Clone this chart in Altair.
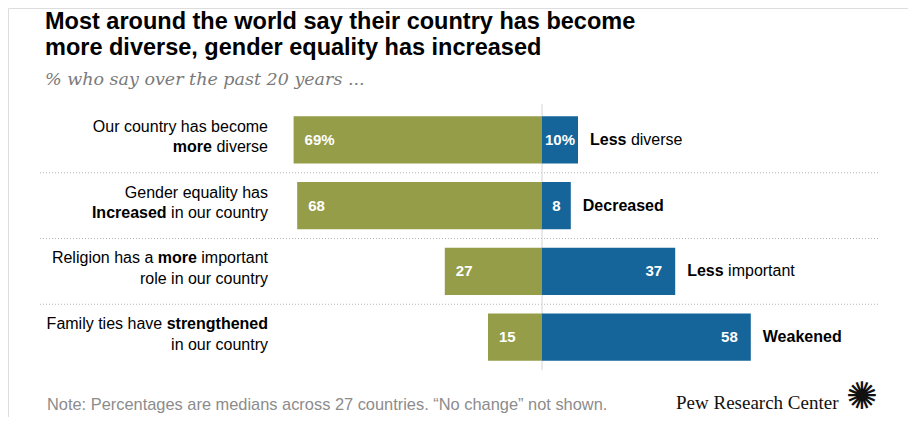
import altair as alt
import pandas as pd

# ---------------- data ----------------
rows = ["diverse", "gender", "religion", "family"]
left_values = [69, 68, 27, 15]
right_values = [10, 8, 37, 58]
left_value_text = ["69%", "68", "27", "15"]
right_value_text = ["10%", "8", "37", "58"]

# right-side category labels: (bold part, regular part)
right_bold = ["Less", "Decreased", "Less", "Weakened"]
right_regular = [" diverse", "", " important", ""]

# left-side labels: per row, two lines, each a list of (text, bold)
left_labels = [
    [[("Our country has become", False)], [("more", True), (" diverse", False)]],
    [[("Gender equality has", False)], [("Increased", True), (" in our country", False)]],
    [[("Religion has a ", False), ("more", True), (" important", False)], [("role in our country", False)]],
    [[("Family ties have ", False), ("strengthened", True)], [("in our country", False)]],
]

title_lines = ["Most around the world say their country has become",
               "more diverse, gender equality has increased"]
subtitle = "% who say over the past 20 years ..."
note = "Note: Percentages are medians across 27 countries. \u201cNo change\u201d not shown."
logo_text = "Pew Research Center"

GREEN = "#959d48"
BLUE = "#15659a"
FONT = "Liberation Sans"

# Arial / Liberation Sans advance widths (per 1000 em) for measuring text
REG = {' ': 278, 'a': 556, 'b': 556, 'c': 500, 'd': 556, 'e': 556, 'f': 278, 'g': 556, 'h': 556,
       'i': 222, 'j': 222, 'k': 500, 'l': 222, 'm': 833, 'n': 556, 'o': 556, 'p': 556, 'q': 556,
       'r': 333, 's': 500, 't': 278, 'u': 556, 'v': 500, 'w': 722, 'x': 500, 'y': 500, 'z': 500,
       'A': 667, 'B': 667, 'C': 722, 'D': 722, 'E': 667, 'F': 611, 'G': 778, 'H': 722, 'I': 278,
       'L': 556, 'O': 778, 'R': 722, 'W': 944}
BOLD = {' ': 278, 'a': 556, 'b': 611, 'c': 556, 'd': 611, 'e': 556, 'f': 333, 'g': 611, 'h': 611,
        'i': 278, 'j': 278, 'k': 556, 'l': 278, 'm': 889, 'n': 611, 'o': 611, 'p': 611, 'q': 611,
        'r': 389, 's': 556, 't': 333, 'u': 611, 'v': 556, 'w': 778, 'x': 556, 'y': 556, 'z': 500,
        'A': 722, 'B': 722, 'C': 722, 'D': 722, 'E': 667, 'F': 611, 'G': 778, 'H': 722, 'I': 278,
        'L': 611, 'O': 778, 'R': 722, 'W': 944}


def text_width(s, bold, size):
    table = BOLD if bold else REG
    return sum(table.get(ch, 556) for ch in s) * size / 1000.0


LABEL_SIZE = 16
W, H = 900, 409

df = pd.DataFrame({
    "row": rows,
    "left": [-v for v in left_values],
    "right": right_values,
    "ltext": left_value_text,
    "rtext": right_value_text,
    "rbold": right_bold,
    "rreg": right_regular,
})

x_scale = alt.Scale(domain=[-100, 100], range=[174, 894])
y_scale = alt.Scale(domain=rows, range=[99, 362], paddingInner=0, paddingOuter=0)
X = lambda f: alt.X(f, type="quantitative", scale=x_scale, axis=None)
Y = alt.Y("row:N", scale=y_scale, axis=None)
Y0 = alt.Y("row:N", scale=y_scale, axis=None, bandPosition=0)

base = alt.Chart(df)

# separators
seps = base.transform_filter(alt.datum.row != rows[0]).mark_rule(
    color="#b5b5b5", strokeWidth=1, strokeDash=[1, 2]
).encode(y=Y0, x=alt.value(32), x2=alt.value(870))

bars_left = base.mark_bar(height={"band": 0.72}, color=GREEN).encode(
    x=X("left"), x2=alt.datum(0), y=Y)
bars_right = base.mark_bar(height={"band": 0.72}, color=BLUE).encode(
    x=X("right"), x2=alt.datum(0), y=Y)

center = base.mark_rule(color="#d4d4d4", strokeWidth=1).encode(
    x=alt.X("zero:Q", scale=x_scale, axis=None), y=alt.value(96), y2=alt.value(362)
).transform_calculate(zero="0").transform_filter(alt.datum.row == rows[0])

vtext = dict(font=FONT, fontSize=15, fontWeight="bold", color="white", baseline="middle")
lt = base.mark_text(align="left", dx=11, **vtext).encode(x=X("left"), y=Y, text="ltext:N")
rt_big = base.transform_filter(alt.datum.right >= 12).mark_text(align="right", dx=-13, **vtext).encode(
    x=X("right"), y=Y, text="rtext:N")
rt_small = base.transform_filter(alt.datum.right < 12).transform_calculate(
    mid="datum.right / 2").mark_text(align="center", **vtext).encode(x=X("mid"), y=Y, text="rtext:N")

layers = [seps, center, bars_left, bars_right, lt, rt_big, rt_small]

# right category labels
GAP = 12
for i, r in enumerate(rows):
    sub = base.transform_filter(alt.datum.row == r)
    tb = dict(font=FONT, fontSize=LABEL_SIZE, color="black", baseline="middle", align="left")
    layers.append(sub.mark_text(dx=GAP, fontWeight="bold", **tb).encode(
        x=X("right"), y=Y, text="rbold:N"))
    if right_regular[i].strip():
        off = GAP + text_width(right_bold[i], True, LABEL_SIZE) + \
            text_width(right_regular[i][:len(right_regular[i]) - len(right_regular[i].lstrip())], False, LABEL_SIZE)
        layers.append(sub.mark_text(dx=off, fontWeight="normal", **tb).encode(
            x=X("right"), y=Y, text=alt.value(right_regular[i].strip())))

# left category labels, right aligned at x = 260
RIGHT_EDGE = 260
LINE_DY = [-8, 12.5]
for i, r in enumerate(rows):
    sub = base.transform_filter(alt.datum.row == r)
    for li, line in enumerate(left_labels[i]):
        total = sum(text_width(t, b, LABEL_SIZE) for t, b in line)
        start = RIGHT_EDGE - total
        acc = 0.0
        for t, b in line:
            lead = t[:len(t) - len(t.lstrip())]
            pos = start + acc + text_width(lead, b, LABEL_SIZE)
            layers.append(sub.mark_text(
                font=FONT, fontSize=LABEL_SIZE, fontWeight="bold" if b else "normal",
                color="black", align="left", baseline="alphabetic", dy=LINE_DY[li]
            ).encode(x=alt.value(pos), y=Y, text=alt.value(t.strip())))
            acc += text_width(t, b, LABEL_SIZE)

# titles, note, logo
one = base.transform_filter(alt.datum.row == rows[0])
for k, line in enumerate(title_lines):
    layers.append(one.mark_text(font=FONT, fontSize=23.5, fontWeight="bold", color="black",
                                align="left", baseline="alphabetic").encode(
        x=alt.value(37), y=alt.value(21 + 26 * k), text=alt.value(line)))
layers.append(one.mark_text(font="DejaVu Serif", fontSize=17.5, fontStyle="italic", color="#7a7a7a",
                            align="left", baseline="alphabetic").encode(
    x=alt.value(37), y=alt.value(77), text=alt.value(subtitle)))
layers.append(one.mark_text(font=FONT, fontSize=16.4, color="#8c8c8c",
                            align="left", baseline="alphabetic").encode(
    x=alt.value(39), y=alt.value(402), text=alt.value(note)))
layers.append(one.mark_text(font="Liberation Serif", fontSize=19, color="#111111",
                            align="left", baseline="alphabetic").encode(
    x=alt.value(668), y=alt.value(401), text=alt.value(logo_text)))
layers.append(one.mark_text(font="DejaVu Sans", fontSize=38, color="#111111",
                            align="center", baseline="middle").encode(
    x=alt.value(854), y=alt.value(390), text=alt.value("\u273a")))

chart = alt.layer(*layers).properties(
    width=W, height=H, padding=0, autosize=alt.AutoSizeParams(type="none")
).configure_view(stroke=None).configure(background="white")

chart.save("out.html", embed_options={"renderer": "svg", "actions": False})
